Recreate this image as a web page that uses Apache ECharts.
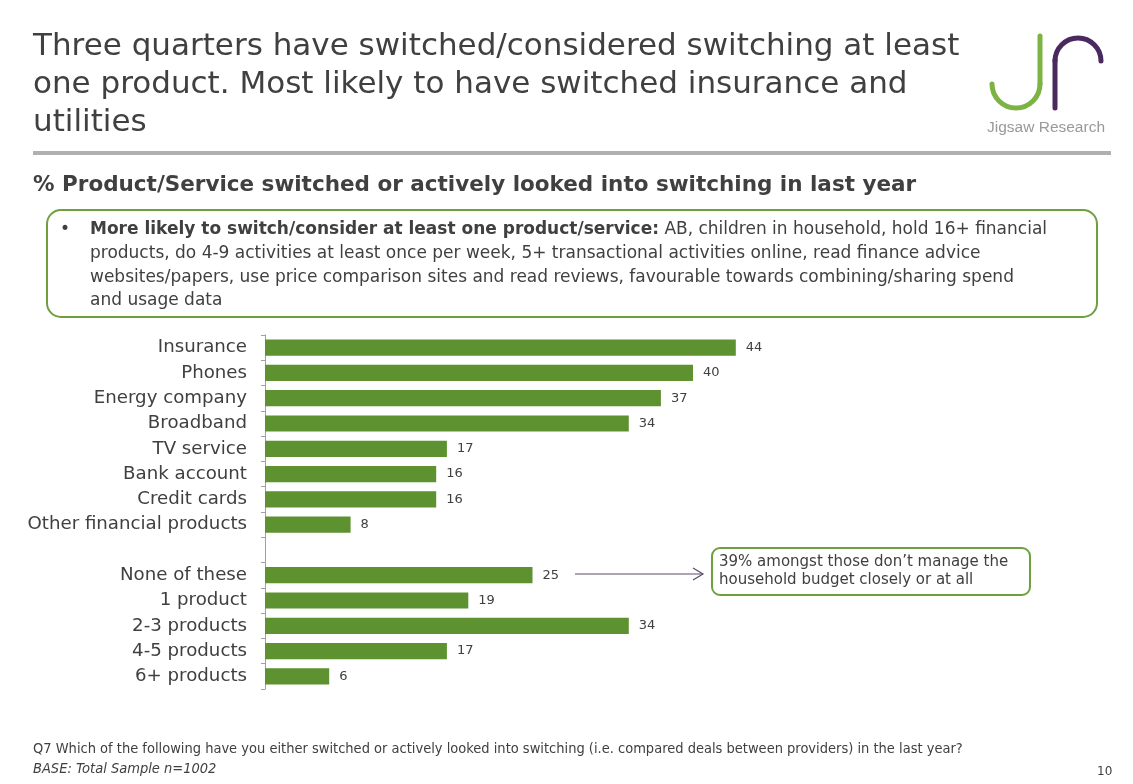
<!DOCTYPE html>
<html>
<head>
<meta charset="utf-8">
<script src="https://cdn.jsdelivr.net/npm/echarts@6/dist/echarts.min.js"></script>
<style>
  html, body { margin: 0; padding: 0; background: #ffffff; }
  #chart { width: 1133px; height: 784px; }
</style>
</head>
<body>
<div id="chart"></div>
<script>
// Products / services switched or looked into switching (%)
const productLabels = ["Insurance", "Phones", "Energy company", "Broadband", "TV service", "Bank account", "Credit cards", "Other financial products"];
const productValues = [44, 40, 37, 34, 17, 16, 16, 8];

// Number of products switched or looked into (%)
const countLabels = ["None of these", "1 product", "2-3 products", "4-5 products", "6+ products"];
const countValues = [25, 19, 34, 17, 6];

// One blank row separates the two groups
const categories = productLabels.concat([""], countLabels);
const values = productValues.concat([null], countValues);

const titleLines = [
  "Three quarters have switched/considered switching at least",
  "one product. Most likely to have switched insurance and",
  "utilities"
];
const boxLines = [
  "products, do 4-9 activities at least once per week, 5+ transactional activities online, read finance advice",
  "websites/papers, use price comparison sites and read reviews, favourable towards combining/sharing spend",
  "and usage data"
];

const FONT = "DejaVu Sans";
const TEXT = "#404040";
const GREEN = "#5e9130";
const BORDER = "#6fa040";

const chart = echarts.init(document.getElementById("chart"), null, { renderer: "canvas" });

const graphics = [];
// Title
titleLines.forEach((t, i) => {
  graphics.push({ type: "text", left: 33, top: 31 + i * 38,
    style: { text: t, font: "31px '" + FONT + "'", fill: TEXT } });
});
// Divider
graphics.push({ type: "rect", shape: { x: 33, y: 151, width: 1078, height: 4 }, style: { fill: "#b0b0b0" } });
// Logo: green J and purple r
graphics.push({ type: "line", shape: { x1: 1040, y1: 36, x2: 1040, y2: 84 }, style: { stroke: "#7cb342", lineWidth: 5, lineCap: "round" } });
graphics.push({ type: "arc", shape: { cx: 1016, cy: 84, r: 24, startAngle: 0, endAngle: Math.PI }, style: { stroke: "#7cb342", lineWidth: 5, fill: null, lineCap: "round" } });
graphics.push({ type: "line", shape: { x1: 1055, y1: 60, x2: 1055, y2: 108 }, style: { stroke: "#4a2a5e", lineWidth: 5, lineCap: "round" } });
graphics.push({ type: "arc", shape: { cx: 1078, cy: 61, r: 23, startAngle: Math.PI, endAngle: 2 * Math.PI }, style: { stroke: "#4a2a5e", lineWidth: 5, fill: null, lineCap: "round" } });
graphics.push({ type: "text", left: 987, top: 120, style: { text: "Jigsaw Research", font: "15.5px 'Liberation Sans'", fill: "#999999" } });
// Subtitle
graphics.push({ type: "text", left: 33, top: 174,
  style: { text: "% Product/Service switched or actively looked into switching in last year", font: "bold 21.5px '" + FONT + "'", fill: TEXT } });
// Note box
graphics.push({ type: "rect", shape: { x: 47, y: 210, width: 1050, height: 107, r: 14 }, style: { fill: "#ffffff", stroke: BORDER, lineWidth: 2 } });
graphics.push({ type: "text", left: 60, top: 221, style: { text: "•", font: "17px '" + FONT + "'", fill: TEXT } });
graphics.push({ type: "text", left: 90, top: 221, style: {
  text: "{b|More likely to switch/consider at least one product/service:} AB, children in household, hold 16+ financial",
  font: "17px '" + FONT + "'", fill: TEXT,
  rich: { b: { fontWeight: "bold", fontFamily: FONT, fontSize: 17, fill: TEXT } } } });
boxLines.forEach((t, i) => {
  graphics.push({ type: "text", left: 90, top: 245 + i * 23.7, style: { text: t, font: "17px '" + FONT + "'", fill: TEXT } });
});
// Callout
graphics.push({ type: "line", shape: { x1: 575, y1: 574, x2: 703, y2: 574 }, style: { stroke: "#5a4a66", lineWidth: 1.2 } });
graphics.push({ type: "polyline", shape: { points: [[693, 568], [703, 574], [693, 580]] }, style: { stroke: "#5a4a66", lineWidth: 1.2, fill: null } });
graphics.push({ type: "rect", shape: { x: 712, y: 548, width: 318, height: 47, r: 8 }, style: { fill: "#ffffff", stroke: BORDER, lineWidth: 2 } });
graphics.push({ type: "text", left: 719, top: 553, style: { text: "39% amongst those don\u2019t manage the\nhousehold budget closely or at all", font: "15px '" + FONT + "'", lineHeight: 18, fill: TEXT } });
// Footnotes
graphics.push({ type: "text", left: 33, top: 742, style: { text: "Q7 Which of the following have you either switched or actively looked into switching (i.e. compared deals between providers) in the last year?", font: "14.5px '" + FONT + " Condensed'", fill: TEXT } });
graphics.push({ type: "text", left: 33, top: 762, style: { text: "BASE: Total Sample n=1002", font: "italic 14.5px '" + FONT + " Condensed'", fill: TEXT } });
graphics.push({ type: "text", left: 1097, top: 766, style: { text: "10", font: "12px '" + FONT + "'", fill: TEXT } });

chart.setOption({
  animation: false,
  backgroundColor: "#ffffff",
  grid: { left: 265, top: 335, width: 535, bottom: 95, containLabel: false },
  xAxis: { type: "value", min: 0, max: 50, show: false },
  yAxis: {
    type: "category", data: categories, inverse: true,
    axisLine: { show: true, lineStyle: { color: "#a0a0a0", width: 1 } },
    axisTick: { show: true, length: 4, lineStyle: { color: "#a0a0a0" } },
    axisLabel: { color: TEXT, fontFamily: FONT, fontSize: 18.2, margin: 18 }
  },
  series: [{
    type: "bar", data: values, barCategoryGap: "36%",
    itemStyle: { color: GREEN },
    label: { show: true, position: "right", distance: 10, color: TEXT, fontFamily: FONT, fontSize: 13 }
  }],
  graphic: graphics
});
</script>
</body>
</html>
